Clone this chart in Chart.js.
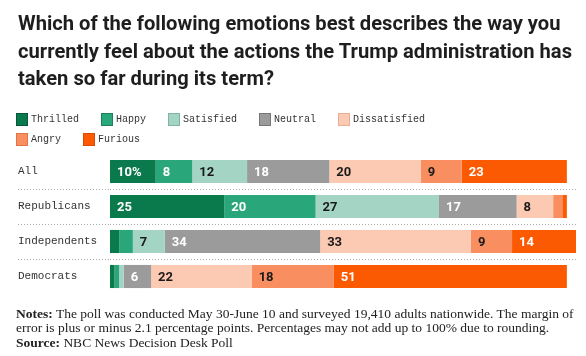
<!DOCTYPE html>
<html><head><meta charset="utf-8">
<script src="https://cdn.jsdelivr.net/npm/chart.js@4"></script>
<style>
html,body{margin:0;padding:0;background:#fff;}
#wrap{position:relative;width:586px;height:356px;overflow:hidden;background:#fff;}
#c{position:absolute;left:0;top:0;}
#title{position:absolute;left:18px;top:10px;font:bold 21px/27.5px "Roboto","Lato",sans-serif;color:#1e1e1e;white-space:nowrap;transform-origin:0 0;}
#title span{display:block;}
#legend{position:absolute;left:16px;top:113px;font:10px/13px "Liberation Mono","DejaVu Sans Mono",monospace;color:#333;}
.row{display:flex;height:13px;margin-bottom:7px;}
.li{display:flex;align-items:center;margin-right:22px;}
.sw{width:12px;height:13px;box-sizing:border-box;border:1px solid;margin-right:3px;}
#notes{position:absolute;left:16px;top:306.5px;font:13.5px/14.6px "Liberation Serif","DejaVu Serif",serif;color:#222;white-space:nowrap;}
#notes b{font-weight:bold;}
</style></head>
<body>
<div id="wrap">
<canvas id="c" width="586" height="356"></canvas>
<div id="title"><span id="t1">Which of the following emotions best describes the way you</span><span>currently feel about the actions the Trump administration has</span><span>taken so far during its term?</span></div>
<div id="legend"></div>
<div id="notes"><b>Notes:</b> The poll was conducted May 30-June 10 and surveyed 19,410 adults nationwide. The margin of<br>error is plus or minus 2.1 percentage points. Percentages may not add up to 100% due to rounding.<br><b>Source:</b> NBC News Decision Desk Poll</div>
</div>
<script>
const categories = ['All', 'Republicans', 'Independents', 'Democrats'];
const seriesNames = ['Thrilled', 'Happy', 'Satisfied', 'Neutral', 'Dissatisfied', 'Angry', 'Furious'];
const thrilled     = [10, 25, 2, 1];
const happy        = [8, 20, 3, 1];
const satisfied    = [12, 27, 7, 1];
const neutral      = [18, 17, 34, 6];
const dissatisfied = [20, 8, 33, 22];
const angry        = [9, 2, 9, 18];
const furious      = [23, 1, 14, 51];
const seriesValues = [thrilled, happy, satisfied, neutral, dissatisfied, angry, furious];
const xMax = 102;
const labelMin = 5;

const fillColors   = ['#0a7a4c', '#2aa77a', '#a4d4c4', '#9b9b9b', '#fcc9b3', '#f98f60', '#fc5a02'];
const edgeColors   = ['#06583a', '#1d7f5b', '#7fb3a2', '#777777', '#e7ad95', '#dd7548', '#d84b00'];
const textColors   = ['#ffffff', '#ffffff', '#1a1a1a', '#ffffff', '#1a1a1a', '#1a1a1a', '#ffffff'];

// fit title first line to the reference width
(function () {
  const t = document.getElementById('title');
  const w = document.getElementById('t1').getBoundingClientRect().width;
  const target = 554;
  if (w > 0) t.style.transform = 'scaleX(' + (target / w) + ')';
})();

// HTML legend built from series names / colours
const legendRows = [[0,1,2,3,4],[5,6]];
const legendEl = document.getElementById('legend');
legendRows.forEach(r => {
  const row = document.createElement('div'); row.className = 'row';
  r.forEach(k => {
    const li = document.createElement('div'); li.className = 'li';
    const sw = document.createElement('span'); sw.className = 'sw';
    sw.style.background = fillColors[k]; sw.style.borderColor = edgeColors[k];
    const t = document.createElement('span'); t.textContent = seriesNames[k];
    li.appendChild(sw); li.appendChild(t); row.appendChild(li);
  });
  legendEl.appendChild(row);
});

const segLabels = {
  id: 'segLabels',
  afterDatasetsDraw(chart) {
    const ctx = chart.ctx;
    ctx.save();
    ctx.font = 'bold 13px "Roboto", sans-serif';
    ctx.textBaseline = 'middle';
    ctx.textAlign = 'left';
    chart.data.datasets.forEach((ds, di) => {
      const meta = chart.getDatasetMeta(di);
      meta.data.forEach((bar, i) => {
        const v = ds.data[i];
        if (v < labelMin) return;
        const left = Math.min(bar.x, bar.base);
        ctx.fillStyle = textColors[di];
        const txt = (di === 0 && i === 0) ? v + '%' : String(v);
        ctx.fillText(txt, left + 7, bar.y + 1);
      });
    });
    ctx.restore();
  }
};

const gridColor = c => (c.type !== 'tick' || c.index === 0) ? 'rgba(0,0,0,0)' : '#aaaaaa';

new Chart(document.getElementById('c'), {
  type: 'bar',
  data: {
    labels: categories,
    datasets: seriesNames.map((n, k) => ({
      label: n,
      data: seriesValues[k],
      backgroundColor: fillColors[k],
      borderWidth: 0,
      barPercentage: 0.66,
      categoryPercentage: 1
    }))
  },
  options: {
    indexAxis: 'y',
    responsive: false,
    animation: false,
    layout: { padding: { top: 154, bottom: 62, left: 18, right: 10 } },
    plugins: { legend: { display: false }, tooltip: { enabled: false }, title: { display: false } },
    scales: {
      x: { stacked: true, min: 0, max: xMax, display: false },
      y: {
        stacked: true,
        grid: {
          offset: true,
          drawOnChartArea: true,
          tickLength: 92,
          color: gridColor,
          tickColor: gridColor,
          lineWidth: 1,
          tickBorderDash: [1, 2],
          borderDash: [1, 2]
        },
        border: { display: false, dash: [1, 2] },
        ticks: {
          crossAlign: 'far',
          padding: 0,
          color: '#333333',
          font: { family: '"Liberation Mono", "DejaVu Sans Mono", monospace', size: 11 }
        },
        afterFit(s) { s.width = 92; }
      }
    }
  },
  plugins: [segLabels]
});
</script>
</body></html>
